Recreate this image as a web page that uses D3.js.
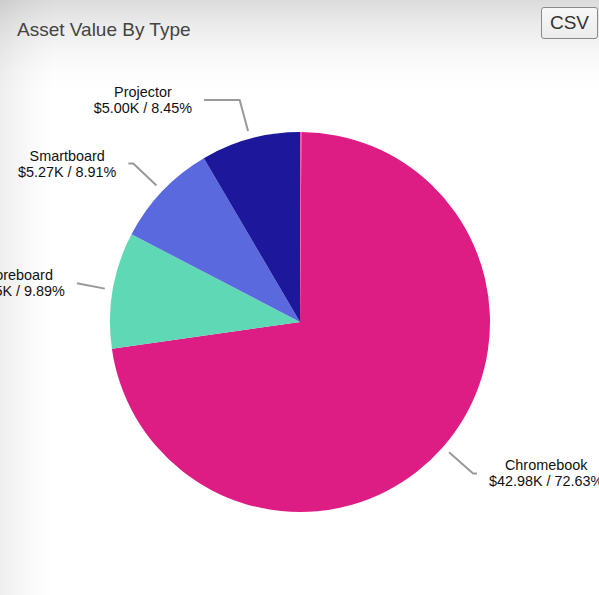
<!DOCTYPE html>
<html>
<head>
<meta charset="utf-8">
<script src="https://cdn.jsdelivr.net/npm/d3@7"></script>
<style>
  html, body { margin: 0; padding: 0; }
  body {
    width: 599px; height: 595px; overflow: hidden; position: relative;
    font-family: "Liberation Sans", Arial, sans-serif;
    background:
      linear-gradient(to bottom, rgba(0,0,0,0.14) 0px, rgba(0,0,0,0.08) 25px, rgba(0,0,0,0.035) 50px, rgba(0,0,0,0.01) 70px, rgba(0,0,0,0) 90px),
      linear-gradient(to right, rgba(0,0,0,0.065) 0px, rgba(0,0,0,0.035) 20px, rgba(0,0,0,0.01) 40px, rgba(0,0,0,0) 55px),
      #fff;
  }
  svg { position: absolute; left: 0; top: 0; }
  .csv {
    position: absolute; left: 541px; top: 7px; width: 57px; height: 32px;
    box-sizing: border-box; border: 1px solid #8a8a8a; border-radius: 3px;
    background: linear-gradient(#f7f7f7, #ececec);
    font-family: "Liberation Sans", Arial, sans-serif; font-size: 19px; color: #333;
    padding: 0; line-height: 30px; text-align: center;
  }
</style>
</head>
<body>
<button class="csv">CSV</button>
<script>
// chart data
const title = "Asset Value By Type"
const categories = ["Other", "Chromebook", "Scoreboard", "Smartboard", "Projector"]
const values = [72, 42980, 5852, 5272, 5000]
const colors = ["#f25caf", "#dd1c84", "#5fd8b5", "#5a6ade", "#1d179b"]
const showLabel = [false, true, true, true, true]

const width = 599, height = 595
const cx = 300, cy = 322, radius = 190

const total = d3.sum(values)
const fmt = v => "$" + (v / 1000).toFixed(2) + "K / " + (v / total * 100).toFixed(2) + "%"

const svg = d3.select("body").append("svg")
    .attr("width", width)
    .attr("height", height)

svg.append("text")
    .attr("x", 17)
    .attr("y", 36)
    .attr("font-size", 19)
    .attr("fill", "#444")
    .text(title)

const data = categories.map((c, i) => ({ name: c, value: values[i], color: colors[i], show: showLabel[i] }))

const pie = d3.pie().sort(null).value(d => d.value)
const arc = d3.arc().innerRadius(0).outerRadius(radius)
const arcs = pie(data)

const g = svg.append("g").attr("transform", `translate(${cx},${cy})`)

g.selectAll("path.slice")
    .data(arcs)
    .join("path")
    .attr("class", "slice")
    .attr("d", arc)
    .attr("fill", d => d.data.color)

// labels with connectors
const elbowR = 230, labelA = 238, labelB = 249, gap = 12
const labels = g.selectAll("g.label")
    .data(arcs.filter(d => d.data.show))
    .join("g")
    .attr("class", "label")

labels.each(function(d) {
    const a = (d.startAngle + d.endAngle) / 2
    const side = Math.sin(a) >= 0 ? 1 : -1
    const sx = Math.sin(a) * (radius + 8), sy = -Math.cos(a) * (radius + 8)
    let ex = Math.sin(a) * elbowR
    const ey = -Math.cos(a) * elbowR
    // label edge sits on an ellipse around the pie
    const edge = side * labelA * Math.sqrt(Math.max(0, 1 - (ey * ey) / (labelB * labelB)))
    const lineEnd = edge - side * gap
    if (Math.abs(ex) > Math.abs(lineEnd)) ex = lineEnd

    const el = d3.select(this)
    el.append("polyline")
        .attr("points", [[sx, sy], [ex, ey], [lineEnd, ey]])
        .attr("fill", "none")
        .attr("stroke", "#999")
        .attr("stroke-width", 2)

    const t = el.append("text")
        .attr("font-size", 14.4)
        .attr("fill", "#111")
        .attr("text-anchor", "middle")
    const l1 = t.append("tspan").attr("y", ey - 3).text(d.data.name)
    const l2 = t.append("tspan").attr("y", ey + 13).text(fmt(d.value))
    const w = Math.max(l1.node().getComputedTextLength(), l2.node().getComputedTextLength())
    const mid = edge + side * w / 2
    l1.attr("x", mid)
    l2.attr("x", mid)
})
</script>
</body>
</html>
